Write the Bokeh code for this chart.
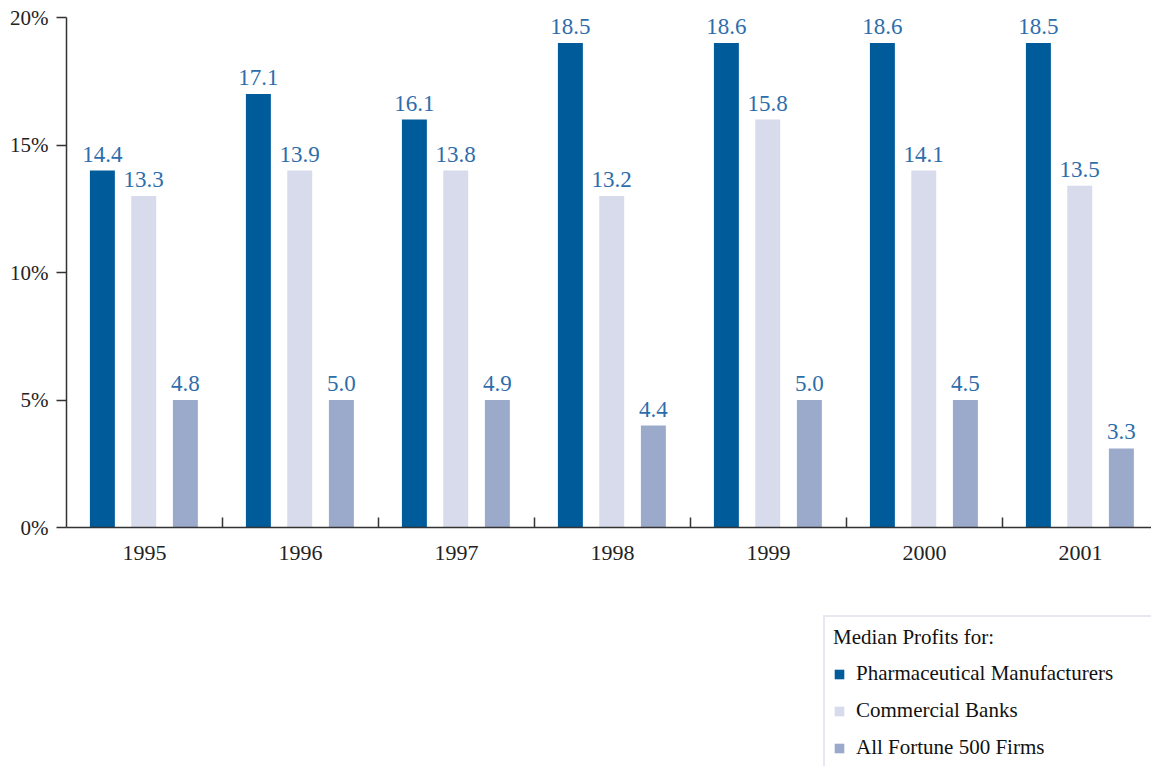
from bokeh.plotting import figure
from bokeh.models import (ColumnDataSource, Range1d, FixedTicker, LinearAxis,
                          Legend, LegendItem, LabelSet)
from bokeh.layouts import column
from bokeh.transform import dodge
from bokeh.core.properties import value
from bokeh.embed import file_html
from bokeh.resources import INLINE

years = ["1995", "1996", "1997", "1998", "1999", "2000", "2001"]
# bar heights as drawn in the picture (%)
pharma_bar = [14, 17, 16, 19, 19, 19, 19]
banks_bar = [13, 14, 14, 13, 16, 14, 13.4]
fortune_bar = [5, 5, 5, 4, 5, 5, 3.1]
# printed value labels
pharma_lbl = ["14.4", "17.1", "16.1", "18.5", "18.6", "18.6", "18.5"]
banks_lbl = ["13.3", "13.9", "13.8", "13.2", "15.8", "14.1", "13.5"]
fortune_lbl = ["4.8", "5.0", "4.9", "4.4", "5.0", "4.5", "3.3"]
y_ticks = [0, 5, 10, 15, 20]
y_tick_labels = ["0%", "5%", "10%", "15%", "20%"]
series_names = ["Pharmaceutical Manufacturers", "Commercial Banks", "All Fortune 500 Firms"]
colors = ["#005b9b", "#d8dbeb", "#9ba9cb"]

FONT = "Liberation Serif"
centers = [i + 0.5 for i in range(len(years))]
src = ColumnDataSource(dict(x=centers, pb=pharma_bar, bb=banks_bar, fb=fortune_bar,
                            pl=pharma_lbl, bl=banks_lbl, fl=fortune_lbl))

p = figure(width=1151, height=578, output_backend="svg", toolbar_location=None,
           x_range=Range1d(0, 6.955), y_range=Range1d(0, 20.353),
           min_border_left=66, min_border_right=0, min_border_top=8,
           min_border_bottom=51, x_axis_type=None, y_axis_type=None)
p.outline_line_color = None
p.xgrid.visible = False
p.ygrid.visible = False
p.background_fill_color = "white"
p.border_fill_color = "white"

offsets = [-0.27, -0.005, 0.262]
cols = ["pb", "bb", "fb"]
lbls = ["pl", "bl", "fl"]
for off, c, l, col in zip(offsets, cols, lbls, colors):
    p.vbar(x=dodge("x", off), top=c, width=0.16, source=src,
           fill_color=col, line_color=None)
    lab = LabelSet(x=dodge("x", off), y=c, text=l, source=src,
                   text_align="center", text_baseline="bottom", y_offset=9,
                   text_font=value(FONT), text_font_size="23px",
                   text_color="#2e6dab")
    p.add_layout(lab)

# y axis
ya = LinearAxis(ticker=FixedTicker(ticks=y_ticks),
                major_label_overrides={t: s for t, s in zip(y_ticks, y_tick_labels)},
                bounds=(0, 20))
ya.axis_line_color = "#333333"
ya.axis_line_width = 1.5
ya.major_tick_line_color = "#333333"
ya.major_tick_line_width = 1.5
ya.major_tick_in = 0
ya.major_tick_out = 10
ya.minor_tick_line_color = None
ya.major_label_text_font = FONT
ya.major_label_text_font_size = "21px"
ya.major_label_text_color = "#222222"
ya.major_label_standoff = 8
p.add_layout(ya, "left")

# x axis
xa = LinearAxis(ticker=FixedTicker(ticks=centers, minor_ticks=[1, 2, 3, 4, 5, 6]),
                major_label_overrides={c: y for c, y in zip(centers, years)})
xa.axis_line_color = "#333333"
xa.axis_line_width = 1.5
xa.major_tick_line_color = None
xa.minor_tick_line_color = "#333333"
xa.minor_tick_line_width = 1.5
xa.minor_tick_in = 10
xa.minor_tick_out = 0
xa.major_label_text_font = FONT
xa.major_label_text_font_size = "22px"
xa.major_label_text_color = "#222222"
xa.major_label_standoff = 12
p.add_layout(xa, "below")

# legend panel (separate figure below the chart)
p2 = figure(width=1151, height=188, output_backend="svg", toolbar_location=None,
            x_range=Range1d(-100, -99), y_range=Range1d(0, 1),
            min_border_left=0, min_border_right=0, min_border_top=0,
            min_border_bottom=0, x_axis_type=None, y_axis_type=None)
p2.outline_line_color = None
p2.xgrid.visible = False
p2.ygrid.visible = False
renderers = []
for c, col in zip(cols, colors):
    r = p2.vbar(x="x", top=c, width=0.16, source=src, fill_color=col, line_color=None)
    renderers.append(r)

items = [LegendItem(label=n, renderers=[r]) for n, r in zip(series_names, renderers)]
leg = Legend(items=items, title="Median Profits for:", location=(757, -4),
             orientation="vertical")
leg.title_text_font = FONT
leg.title_text_font_size = "21px"
leg.title_text_font_style = "normal"
leg.title_text_color = "#111111"
leg.title_standoff = 11
leg.label_text_font = FONT
leg.label_text_font_size = "21px"
leg.label_text_color = "#111111"
leg.glyph_width = 12
leg.glyph_height = 12
leg.label_height = 20
leg.label_width = 300
leg.label_standoff = 11
leg.spacing = 12
leg.padding = 8
leg.margin = 0
leg.border_line_color = "#d0d3e6"
leg.border_line_width = 2
leg.background_fill_color = "white"
leg.background_fill_alpha = 1
p2.add_layout(leg, "center")

layout = column(p, p2, spacing=0)
open("out.html", "w").write(file_html(layout, INLINE))
